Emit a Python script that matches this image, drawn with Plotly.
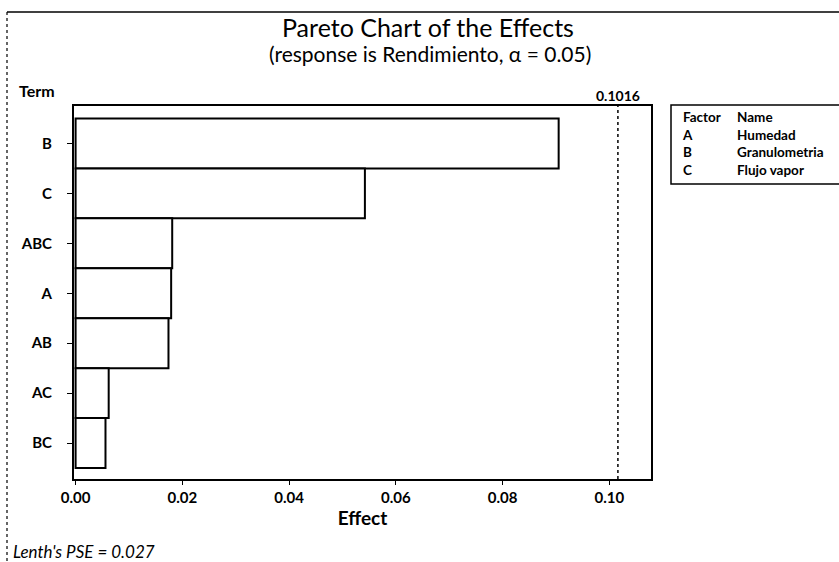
import plotly.graph_objects as go

# Standardized effects, sorted largest first (top of chart)
terms = ["B", "C", "ABC", "A", "AB", "AC", "BC"]
effects = [0.0905, 0.0542, 0.0181, 0.0179, 0.0174, 0.0062, 0.0056]
ref_value = 0.1016
x_ticks = [0.00, 0.02, 0.04, 0.06, 0.08, 0.10]
x_tick_text = ["0.00", "0.02", "0.04", "0.06", "0.08", "0.10"]
factor_codes = ["A", "B", "C"]
factor_names = ["Humedad", "Granulometria", "Flujo vapor"]

FONT = "Lato"
W, H = 839, 562
L, R, T, B = 74, 188, 106, 83
pw, ph = W - L - R, H - T - B


def px(xp):
    """Pixel x (from left) -> paper units."""
    return (xp - L) / pw


def py(yp):
    """Pixel y (from top) -> paper units."""
    return (H - B - yp) / ph


n = len(terms)
ypos = [n - 1 - i for i in range(n)]

fig = go.Figure()
fig.add_trace(go.Bar(
    x=effects, y=ypos, orientation="h", width=1.0,
    marker=dict(color="white", line=dict(color="black", width=2)),
    hoverinfo="x",
))

# Critical effect reference line and its label
fig.add_shape(type="line", xref="x", yref="paper", x0=ref_value, x1=ref_value,
              y0=0, y1=1, line=dict(color="black", width=1.5, dash="dot"))
fig.add_annotation(x=ref_value, y=py(95), xref="x", yref="paper", text=f"<b>{ref_value}</b>",
                   showarrow=False, yanchor="middle", xanchor="center",
                   font=dict(family=FONT, size=14, color="black"))

fig.add_annotation(x=px(17), y=py(91), xref="paper", yref="paper", text="<b>Term</b>",
                   showarrow=False, xanchor="left", yanchor="middle",
                   font=dict(family=FONT, size=16, color="black"))

# Title and subtitle
fig.add_annotation(x=px(428), y=py(27), xref="paper", yref="paper",
                   text="Pareto Chart of the Effects", showarrow=False,
                   xanchor="center", yanchor="middle",
                   font=dict(family=FONT, size=25, color="black"))
fig.add_annotation(x=px(430), y=py(54), xref="paper", yref="paper",
                   text="(response is Rendimiento, α = 0.05)", showarrow=False,
                   xanchor="center", yanchor="middle",
                   font=dict(family=FONT, size=21, color="black"))

# Factor legend table
fig.add_shape(type="rect", xref="paper", yref="paper", x0=px(671), x1=px(850),
              y0=py(184), y1=py(105), line=dict(color="black", width=1.5),
              fillcolor="white")
col_codes = "<br>".join(["<b>Factor</b>"] + [f"<b>{c}</b>" for c in factor_codes])
col_names = "<br>".join(["<b>Name</b>"] + [f"<b>{nm}</b>" for nm in factor_names])
fig.add_annotation(x=px(680), y=py(107), xref="paper", yref="paper", text=col_codes,
                   showarrow=False, xanchor="left", yanchor="top", align="left",
                   font=dict(family=FONT, size=13.5, color="black"))
fig.add_annotation(x=px(735), y=py(107), xref="paper", yref="paper", text=col_names,
                   showarrow=False, xanchor="left", yanchor="top", align="left",
                   font=dict(family=FONT, size=13.5, color="black"))

# Footnote
fig.add_annotation(x=px(11), y=py(551), xref="paper", yref="paper",
                   text="<i>Lenth's PSE = 0.027</i>", showarrow=False,
                   xanchor="left", yanchor="middle",
                   font=dict(family=FONT, size=17, color="black"))

# Outer frame (left and top edges)
fig.add_shape(type="line", xref="paper", yref="paper", x0=px(7), x1=px(7),
              y0=py(12), y1=py(565), line=dict(color="black", width=1.2, dash="dot"))
fig.add_shape(type="line", xref="paper", yref="paper", x0=px(7), x1=px(845),
              y0=py(12), y1=py(12), line=dict(color="black", width=1.5))

fig.update_layout(
    width=W, height=H,
    margin=dict(l=L, r=R, t=T, b=B),
    paper_bgcolor="white", plot_bgcolor="white",
    showlegend=False,
    xaxis=dict(
        range=[-0.0003, 0.1078], tickvals=x_ticks,
        ticktext=[f"<b>{t}</b>" for t in x_tick_text],
        showgrid=False, zeroline=False, showline=True, linecolor="black", linewidth=2,
        mirror=True, ticks="outside", ticklen=4, tickcolor="black",
        tickfont=dict(family=FONT, size=15, color="black"),
        title=dict(text="<b>Effect</b>", font=dict(family=FONT, size=19, color="black"),
                   standoff=2),
    ),
    yaxis=dict(
        range=[-0.72, n - 1 + 0.75], tickvals=ypos, ticktext=[f"<b>{t}</b>" for t in terms],
        showgrid=False, zeroline=False, showline=True, linecolor="black", linewidth=2,
        mirror=True, ticks="outside", ticklen=5, tickcolor="black",
        ticklabelstandoff=12,
        tickfont=dict(family=FONT, size=15, color="black"),
    ),
)

fig.write_html("out.html")
